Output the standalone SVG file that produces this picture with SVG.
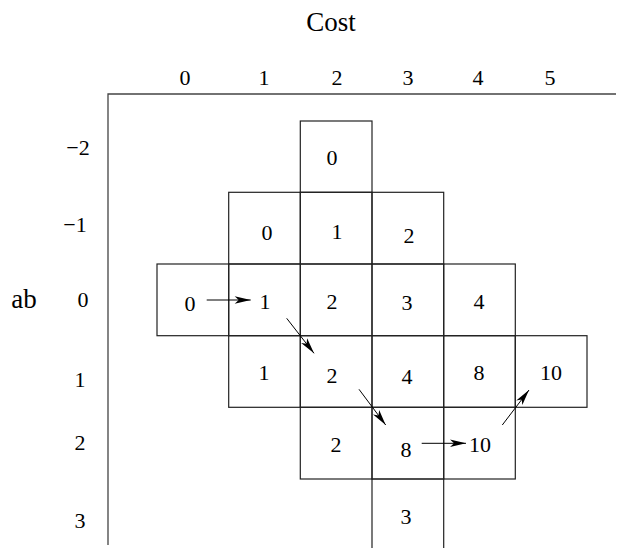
<svg xmlns="http://www.w3.org/2000/svg" width="618" height="550" viewBox="0 0 618 550">
<defs>
<style>
.cell{fill:none;stroke:#222;stroke-width:1.2}
.ax{fill:none;stroke:#444;stroke-width:1.3}
.t{font-family:"Liberation Serif","Times New Roman",serif;font-size:22px;fill:#000;text-anchor:middle}
.big{font-size:27px}
.con{fill:none;stroke:#000;stroke-width:1}
</style>
<marker id="ah" markerUnits="userSpaceOnUse" markerWidth="20" markerHeight="10" viewBox="-17 -5 18 10" refX="0" refY="0" orient="auto">
<path d="M0,0 L-16,-3.8 L-12,0 L-16,3.8 Z" fill="#000"/>
</marker>
</defs>
<rect width="618" height="550" fill="#fff"/>
<g id="axes">
<path class="ax" d="M108,545 V94 H616"/>
<text class="t big" x="331" y="31">Cost</text>
<text class="t big" x="24" y="308">ab</text>
<text class="t" x="185" y="85">0</text>
<text class="t" x="264" y="85">1</text>
<text class="t" x="337" y="85">2</text>
<text class="t" x="408" y="85">3</text>
<text class="t" x="478" y="85">4</text>
<text class="t" x="550" y="85">5</text>
<text class="t" x="78" y="155">−2</text>
<text class="t" x="75" y="232">−1</text>
<text class="t" x="83" y="307">0</text>
<text class="t" x="80" y="387">1</text>
<text class="t" x="80" y="450">2</text>
<text class="t" x="80" y="528">3</text>
</g>
<g id="cell-m2-2"><rect class="cell" x="300.3" y="121" width="71.7" height="71.3"/><text class="t" x="332" y="165">0</text></g>
<g id="cell-m1-1"><rect class="cell" x="228.7" y="192.3" width="71.6" height="71.7"/><text class="t" x="267" y="240">0</text></g>
<g id="cell-m1-2"><rect class="cell" x="300.3" y="192.3" width="71.7" height="71.7"/><text class="t" x="337" y="239">1</text></g>
<g id="cell-m1-3"><rect class="cell" x="372" y="192.3" width="71.7" height="71.7"/><text class="t" x="409" y="243">2</text></g>
<g id="cell-0-0"><rect class="cell" x="157" y="264" width="71.7" height="71.7"/><text class="t" x="190" y="311">0</text></g>
<g id="cell-0-1"><rect class="cell" x="228.7" y="264" width="71.6" height="71.7"/><text class="t" x="265" y="309">1</text></g>
<g id="cell-0-2"><rect class="cell" x="300.3" y="264" width="71.7" height="71.7"/><text class="t" x="332" y="309">2</text></g>
<g id="cell-0-3"><rect class="cell" x="372" y="264" width="71.7" height="71.7"/><text class="t" x="407" y="310">3</text></g>
<g id="cell-0-4"><rect class="cell" x="443.7" y="264" width="71.6" height="71.7"/><text class="t" x="479" y="309">4</text></g>
<g id="cell-1-1"><rect class="cell" x="228.7" y="335.7" width="71.6" height="71.6"/><text class="t" x="264" y="380">1</text></g>
<g id="cell-1-2"><rect class="cell" x="300.3" y="335.7" width="71.7" height="71.6"/><text class="t" x="332" y="383">2</text></g>
<g id="cell-1-3"><rect class="cell" x="372" y="335.7" width="71.7" height="71.6"/><text class="t" x="407" y="384">4</text></g>
<g id="cell-1-4"><rect class="cell" x="443.7" y="335.7" width="71.6" height="71.6"/><text class="t" x="479" y="380">8</text></g>
<g id="cell-1-5"><rect class="cell" x="515.3" y="335.7" width="71.7" height="71.6"/><text class="t" x="551" y="380">10</text></g>
<g id="cell-2-2"><rect class="cell" x="300.3" y="407.3" width="71.7" height="71.7"/><text class="t" x="336" y="452">2</text></g>
<g id="cell-2-3"><rect class="cell" x="372" y="407.3" width="71.7" height="71.7"/><text class="t" x="406" y="457">8</text></g>
<g id="cell-2-4"><rect class="cell" x="443.7" y="407.3" width="71.6" height="71.7"/><text class="t" x="480" y="452">10</text></g>
<g id="cell-3-3"><path class="cell" d="M372,548 V479 H443.7 V548"/><text class="t" x="406" y="524">3</text></g>
<g id="connectors">
<line class="con" x1="206.7" y1="300" x2="250.7" y2="300" marker-end="url(#ah)"/>
<line class="con" x1="286.7" y1="318.3" x2="314" y2="353.3" marker-end="url(#ah)"/>
<line class="con" x1="359" y1="389.3" x2="385.7" y2="425" marker-end="url(#ah)"/>
<line class="con" x1="421.7" y1="443.3" x2="466" y2="443.3" marker-end="url(#ah)"/>
<line class="con" x1="502.3" y1="425" x2="529" y2="390" marker-end="url(#ah)"/>
</g>
</svg>
